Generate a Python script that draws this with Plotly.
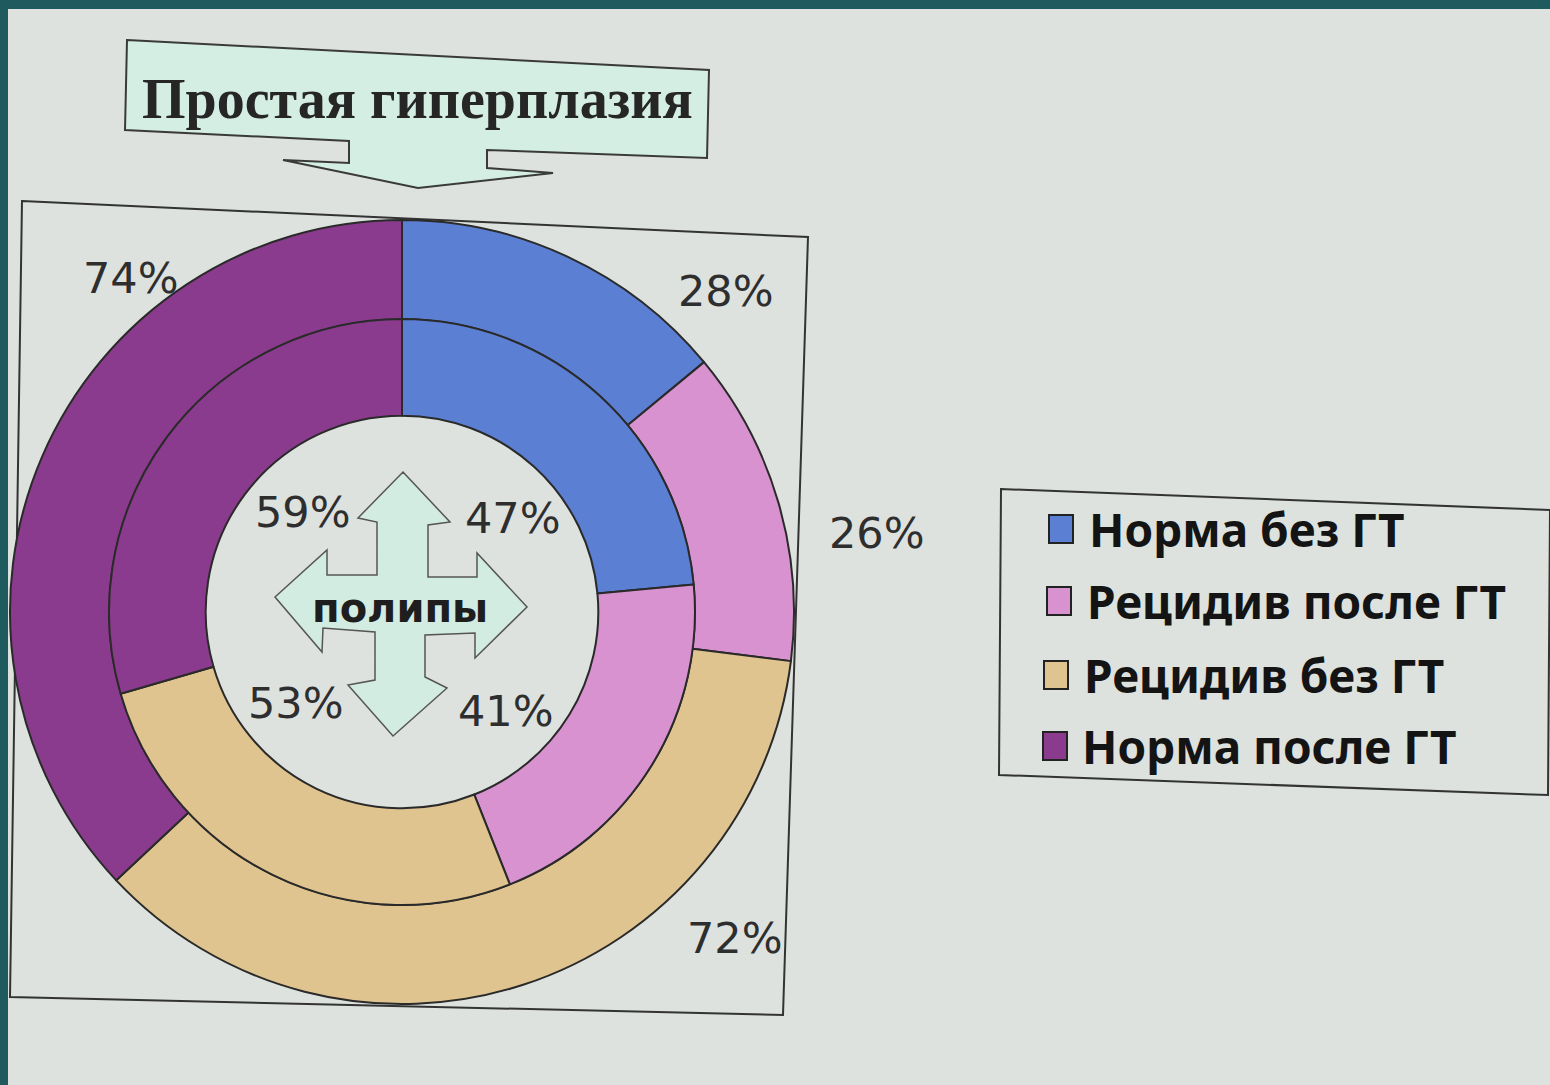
import plotly.graph_objects as go

W, H = 1550, 1085

# ---- data ----
categories = ["Норма без ГТ", "Рецидив после ГТ", "Рецидив без ГТ", "Норма после ГТ"]
hyperplasia_values = [28, 26, 72, 74]   # outer ring: Простая гиперплазия
polyp_values = [47, 41, 53, 59]         # inner ring: полипы
colors = ["#5b7fd3", "#d892cf", "#dfc48f", "#8b3b8d"]
title_text = "Простая гиперплазия"
center_text = "полипы"


def px(x):
    return x / W


def py(y):
    return 1 - y / H


def path(points):
    return "M " + " L ".join(f"{px(x):.5f},{py(y):.5f}" for x, y in points) + " Z"


fig = go.Figure()

# outer ring (hyperplasia)
fig.add_trace(go.Pie(
    values=hyperplasia_values, labels=categories, sort=False,
    direction="clockwise", rotation=0, hole=0.747, textinfo="none",
    marker=dict(colors=colors, line=dict(color="#2a2a2a", width=2)),
    domain=dict(x=[px(10), px(794)], y=[py(1004), py(220)]),
    showlegend=False, name="Простая гиперплазия",
))
# inner ring (polyps)
fig.add_trace(go.Pie(
    values=polyp_values, labels=categories, sort=False,
    direction="clockwise", rotation=0, hole=0.67, textinfo="none",
    marker=dict(colors=colors, line=dict(color="#2a2a2a", width=2)),
    domain=dict(x=[px(109), px(695)], y=[py(905), py(319)]),
    showlegend=False, name="полипы",
))

shapes = []
annotations = []

# teal border of slide
shapes.append(dict(type="rect", xref="paper", yref="paper", x0=0, x1=1, y0=py(9), y1=1,
                   fillcolor="#1f5a5f", line=dict(width=0), layer="below"))
shapes.append(dict(type="rect", xref="paper", yref="paper", x0=0, x1=px(8), y0=0, y1=1,
                   fillcolor="#1f5a5f", line=dict(width=0), layer="below"))

# chart frame
shapes.append(dict(type="path", xref="paper", yref="paper",
                   path=path([(22, 201), (808, 237), (783, 1015), (10, 997)]),
                   line=dict(color="#333333", width=2), layer="below"))

# title callout
shapes.append(dict(type="path", xref="paper", yref="paper",
                   path=path([(127, 40), (709, 70), (707, 158), (487, 150), (487, 168),
                              (553, 173), (418, 188), (283, 160), (349, 163), (349, 141),
                              (125, 130)]),
                   fillcolor="#d5eee3", line=dict(color="#3a3a3a", width=2), layer="above"))
annotations.append(dict(xref="paper", yref="paper", x=px(418), y=py(99), text=f"<b>{title_text}</b>",
                        showarrow=False, xanchor="center", yanchor="middle",
                        font=dict(family="Liberation Serif", size=56, color="#262626")))

# central four-way arrow
shapes.append(dict(type="path", xref="paper", yref="paper",
                   path=path([(403, 472), (450, 522), (428, 525), (428, 577), (477, 577),
                              (477, 553), (527, 607), (475, 658), (475, 633), (425, 635),
                              (425, 677), (447, 688), (393, 736), (348, 685), (375, 680),
                              (375, 632), (323, 628), (322, 652), (275, 597), (327, 550),
                              (327, 575), (377, 575), (377, 522), (358, 518)]),
                   fillcolor="#d3ece2", line=dict(color="#555555", width=1.5), layer="above"))
annotations.append(dict(xref="paper", yref="paper", x=px(400), y=py(608), text=f"<b>{center_text}</b>",
                        showarrow=False, xanchor="center", yanchor="middle",
                        font=dict(family="DejaVu Sans", size=40, color="#1e1e1e")))

# percentage labels
outer_pos = [(726, 291), (877, 533), (735, 938), (131, 278)]
inner_pos = [(513, 518), (506, 711), (296, 703), (303, 512)]
for v, (x, y) in zip(hyperplasia_values, outer_pos):
    annotations.append(dict(xref="paper", yref="paper", x=px(x), y=py(y), text=f"{v}%",
                            showarrow=False, xanchor="center", yanchor="middle",
                            font=dict(family="DejaVu Sans", size=43, color="#2e2e2e")))
for v, (x, y) in zip(polyp_values, inner_pos):
    annotations.append(dict(xref="paper", yref="paper", x=px(x), y=py(y), text=f"{v}%",
                            showarrow=False, xanchor="center", yanchor="middle",
                            font=dict(family="DejaVu Sans", size=43, color="#2e2e2e")))

# legend box
shapes.append(dict(type="path", xref="paper", yref="paper",
                   path=path([(1001, 489), (1550, 510), (1548, 795), (999, 775)]),
                   line=dict(color="#333333", width=2), layer="below"))
leg_rows = [(1061, 1087, 529), (1059, 1085, 601), (1056, 1082, 675), (1055, 1080, 746)]
for cat, col, (mx, tx, y) in zip(categories, colors, leg_rows):
    shapes.append(dict(type="rect", xref="paper", yref="paper",
                       x0=px(mx - 12), x1=px(mx + 12), y0=py(y + 14), y1=py(y - 14),
                       fillcolor=col, line=dict(color="#222222", width=2), layer="above"))
    annotations.append(dict(xref="paper", yref="paper", x=px(tx), y=py(y), text=f"<b>{cat}</b>",
                            showarrow=False, xanchor="left", yanchor="middle",
                            font=dict(family="Noto Sans", size=46, color="#141414")))

fig.update_layout(
    width=W, height=H, margin=dict(l=0, r=0, t=0, b=0),
    paper_bgcolor="#dde2de", plot_bgcolor="#dde2de",
    shapes=shapes, annotations=annotations, showlegend=False,
)

fig.write_html(
    "out.html",
    config={"displayModeBar": False},
    post_script="document.body.style.margin='0';document.body.style.overflow='hidden';",
)
